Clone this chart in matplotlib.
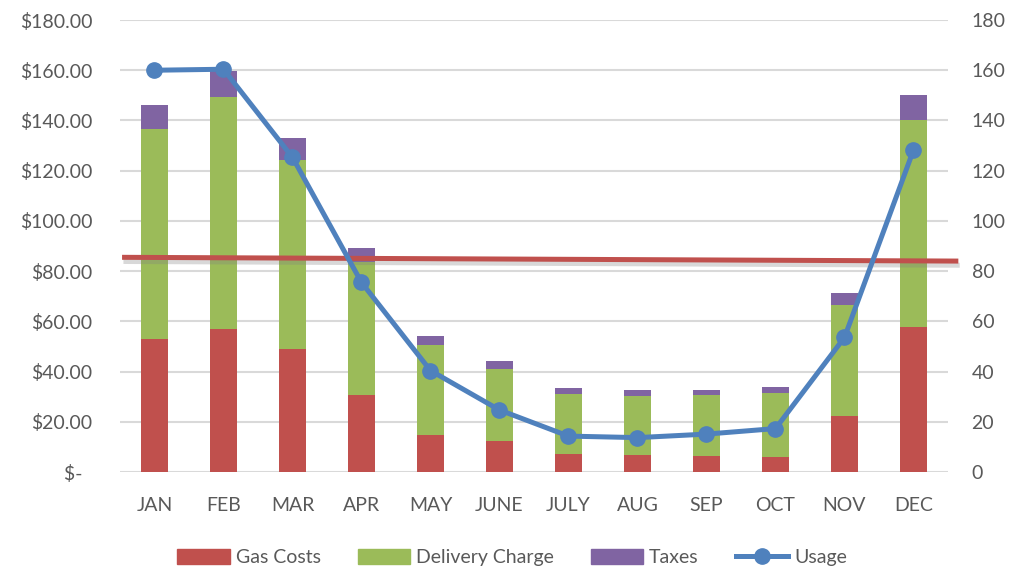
"""
Monthly gas bill: stacked cost bars, usage line on the right axis.
"""

import matplotlib
matplotlib.use('Agg')
import matplotlib.pyplot as plt
import matplotlib.patheffects as pe
from matplotlib.lines import Line2D
from matplotlib.patches import Patch

plt.rcParams['font.family'] = ['Lato', 'DejaVu Sans']

months = ['JAN', 'FEB', 'MAR', 'APR', 'MAY', 'JUNE', 'JULY', 'AUG', 'SEP', 'OCT', 'NOV', 'DEC']
gas_costs = [53.1, 57.1, 49.1, 30.8, 14.8, 12.5, 7.3, 6.9, 6.5, 6.1, 22.3, 57.9]
delivery = [83.4, 92.4, 75.2, 53.0, 35.8, 28.5, 23.6, 23.4, 24.0, 25.4, 44.2, 82.3]
taxes = [9.5, 10.3, 8.6, 5.4, 3.6, 3.1, 2.4, 2.2, 2.3, 2.4, 4.7, 9.9]
usage = [160.0, 160.4, 125.3, 75.5, 40.4, 24.7, 14.3, 13.7, 15.1, 17.3, 53.6, 128.2]
trend_start, trend_end = 85.5, 84.0   # hand drawn trend line (left axis units)

RED = '#C0504D'
GREEN = '#9BBB59'
PURPLE = '#8064A2'
BLUE = '#4F81BD'
TXT = '#595959'
GRID = '#D9D9D9'

fig = plt.figure(figsize=(10.1, 5.72), dpi=100)
ax = fig.add_axes([0.1188, 0.1748, 0.8198, 0.7902])
x = list(range(len(months)))

bottom2 = [g + d for g, d in zip(gas_costs, delivery)]
ax.bar(x, gas_costs, width=0.4, color=RED, zorder=2)
ax.bar(x, delivery, width=0.4, bottom=gas_costs, color=GREEN, zorder=2)
ax.bar(x, taxes, width=0.4, bottom=bottom2, color=PURPLE, zorder=2)

# trend line, runs a little past the plot area
ax.plot([-0.47, 11.65], [trend_start, trend_end], color=RED, lw=3.6,
        solid_capstyle='butt', clip_on=False, zorder=3,
        path_effects=[pe.SimpleLineShadow(offset=(1, -3), shadow_color='#808080', alpha=0.3),
                      pe.Normal()])

ax.set_xlim(-0.5, 11.5)
ax.set_ylim(0, 180)
ax.set_yticks(range(0, 181, 20))
ax.set_yticklabels(['$-  '] + ['$%.2f' % v for v in range(20, 181, 20)])
ax.set_xticks(x)
ax.set_xticklabels(months)
ax.yaxis.grid(True, color=GRID, lw=1.5, zorder=0)
ax.set_axisbelow(True)
for s in ax.spines.values():
    s.set_visible(False)
ax.tick_params(axis='y', length=0, pad=20, labelsize=14, labelcolor=TXT)
ax.tick_params(axis='x', length=0, pad=18, labelsize=14, labelcolor=TXT)

ax2 = ax.twinx()
ax2.plot(x, usage, color=BLUE, lw=3.6, marker='o', markersize=11, zorder=4)
ax2.set_ylim(0, 180)
ax2.set_yticks(range(0, 181, 20))
for s in ax2.spines.values():
    s.set_visible(False)
ax2.tick_params(axis='y', length=0, pad=17, labelsize=14, labelcolor=TXT)

handles = [Patch(color=RED), Patch(color=GREEN), Patch(color=PURPLE),
           Line2D([], [], color=BLUE, lw=3.6, marker='o', markersize=11)]
fig.legend(handles, ['Gas Costs', 'Delivery Charge', 'Taxes', 'Usage'],
           loc='center', bbox_to_anchor=(0.507, 0.025), ncol=4, frameon=False,
           fontsize=14, labelcolor=TXT, handlelength=2.7, handleheight=0.8,
           handletextpad=0.3, columnspacing=1.9)

fig.savefig('out.png', dpi=100)
